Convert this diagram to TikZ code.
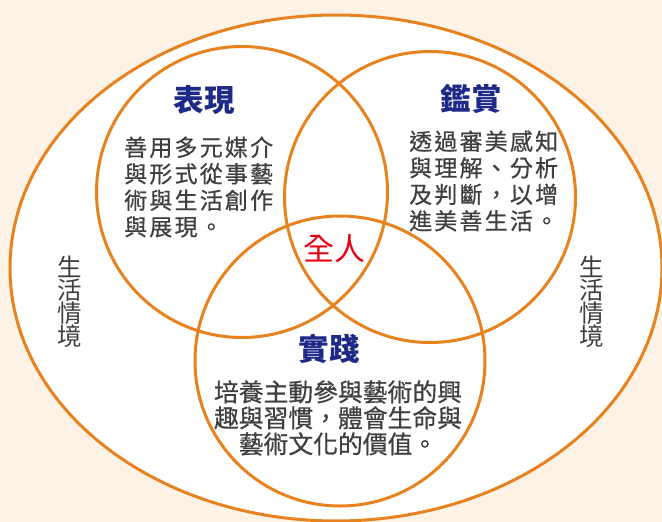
\documentclass[tikz,border=0pt]{standalone}
\usepackage{fontspec}
\usepackage{tikz}
\newfontfamily\tcfont{Noto Sans CJK TC}
\newfontfamily\tcspaced[LetterSpace=9.5,FakeBold=0.6]{Noto Sans CJK TC}
\newfontfamily\tcbody[FakeBold=0.6]{Noto Sans CJK TC}
\definecolor{bgcream}{HTML}{FCF3E6}
\definecolor{ringorange}{HTML}{E8821E}
\definecolor{titlenavy}{HTML}{1F2A88}
\definecolor{wholered}{HTML}{E60012}
\definecolor{bodygray}{HTML}{3F3F3F}

\begin{document}
\begin{tikzpicture}[x=1pt,y=-1pt,
    ring/.style={draw=ringorange, line width=3pt},
    title/.style={inner sep=0pt, text=titlenavy, font=\tcfont\bfseries\fontsize{30.5}{32}\selectfont},
    body/.style={inner sep=0pt, text=bodygray, font=\tcspaced\fontsize{23}{26.5}\selectfont},
    bodytight/.style={inner sep=0pt, text=bodygray, align=center, font=\tcbody\fontsize{24.8}{26}\selectfont},
    side/.style={inner sep=0pt, text=bodygray, align=center, font=\tcfont\fontsize{24.5}{23}\selectfont}]
    \fill[bgcream] (0,0) rectangle (662,522);
    \useasboundingbox (0,0) rectangle (662,522);
    \clip (0,0) rectangle (662,522);
    % outer ellipse and the three circles
    \filldraw[ring, fill=white] (336,268) ellipse [x radius=326, y radius=253];
    \draw[ring] (242,192) circle (145.5);
    \draw[ring] (430,197) circle (145.5);
    \draw[ring] (340,361) circle (145);
    % titles
    \node[title] (biaoxian) at (204,100) {表現};
    \node[title] (jianshang) at (471,99) {鑑賞};
    \node[title] (shijian) at (329,349) {實踐};
    \node[inner sep=0pt, text=wholered, font=\tcfont\fontsize{31}{33}\selectfont] (quanren) at (334,249) {全人};
    % texts
    \node[body, anchor=west, align=left] (biaoxianText) at (124,187) {善用多元媒介\\與形式從事藝\\術與生活創作\\與展現。};
    \node[body, anchor=west, align=left] (jianshangText) at (409,181) {透過審美感知\\與理解、分析\\及判斷，以增\\進美善生活。};
    \node[bodytight] (shijianText) at (338,418) {培養主動參與藝術的興\\趣與習慣，體會生命與\\藝術文化的價值。};
    \node[side] (leftSide) at (70,302) {生\\活\\情\\境};
    \node[side] (rightSide) at (592,302) {生\\活\\情\\境};
\end{tikzpicture}
\end{document}
